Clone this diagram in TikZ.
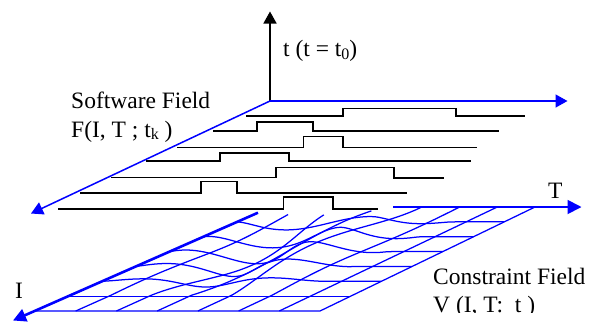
\documentclass[tikz,border=0pt]{standalone}
\usepackage{fontspec}
\setmainfont{Liberation Serif}
\usetikzlibrary{arrows.meta}
\newcommand\mysub[1]{\raisebox{-2.6pt}{\fontsize{16}{16}\selectfont #1}}
\definecolor{fieldblue}{RGB}{0,0,255}
\tikzset{
  lbl/.style={inner sep=0pt, anchor=base west, font=\fontsize{23.5}{28}\selectfont},
  stepline/.style={black, line width=1.3pt},
  upaxis/.style={fieldblue, line width=1.5pt, -{Triangle[length=12pt,width=13pt]}},
  taxis/.style={black, line width=1.5pt, -{Triangle[length=12pt,width=13pt]}},
  meshline/.style={fieldblue, line width=1.25pt},
  lowT/.style={fieldblue, line width=1.8pt, -{Triangle[length=14pt,width=14pt]}},
  lowI/.style={fieldblue, line width=2.6pt, -{Triangle[length=13pt,width=13pt]}},
  declare function={
    wf(\u,\v)=sin(180*min(\u/0.8,1))*sin(180*min(\v/0.85,1));
    wt(\u,\v)=(1-min(\v/0.6,1))*sin(180*min(\u/0.5,1));
    gx(\u,\v)=(1-\v)*(271+264*\u)+\v*(35+285*\u)-14*wf(\u,\v)*cos(450*\u+150*\v)-18*wt(\u,\v);
    gy(\u,\v)=207+104*\v+12*wf(\u,\v)*sin(630*\u-200*\v)+5*wt(\u,\v);
  }
}
\begin{document}
\begin{tikzpicture}[x=1pt,y=-1pt]
\useasboundingbox (0,0) rectangle (596,322);
% axes coordinates
\coordinate (O) at (270,101);
\coordinate (tTop) at (270,11.5);
\coordinate (TEnd) at (567.5,101);
\coordinate (IEnd) at (31,213.5);
\coordinate (LTs) at (393,207);
\coordinate (LTe) at (581.5,207);
\coordinate (LIs) at (258,212.7);
\coordinate (LIe) at (13,320.5);
% upper plane axes
\draw[taxis] (O) -- (tTop);
\draw[upaxis] (O) -- (TEnd);
\draw[upaxis] (O) -- (IEnd);
% software field step lines
\draw[stepline] (246,116) -- (343,116) -- (343,108.3) -- (456,108.3) -- (456,116) -- (525,116);
\draw[stepline] (213,131) -- (257,131) -- (257,122) -- (313,122) -- (313,131) -- (499,131);
\draw[stepline] (177,147.5) -- (303.5,147.5) -- (303.5,136.5) -- (343,136.5) -- (343,147.5) -- (477,147.5);
\draw[stepline] (146,161) -- (220,161) -- (220,153) -- (289,153) -- (289,161) -- (471,161);
\draw[stepline] (111,177.5) -- (276,177.5) -- (276,167.7) -- (394,167.7) -- (394,178) -- (444,178);
\draw[stepline] (80,193) -- (201,193) -- (201,181.5) -- (237,181.5) -- (237,193) -- (407,193);
\draw[stepline] (58,209) -- (283.5,209) -- (283.5,197) -- (333,197) -- (333,209) -- (378,209);
% constraint field mesh
\foreach \k in {1,...,6}{
  \pgfmathsetmacro\vv{\k/7}
  \draw[meshline] plot[smooth, domain=0:1, samples=40, variable=\t] ({gx(\t,\vv)},{gy(\t,\vv)});
}
\foreach \j in {1,...,6}{
  \pgfmathsetmacro\uu{\j/7}
  \pgfmathsetmacro\vs{\j<4 ? 0.03 : 0}
  \draw[meshline] plot[smooth, domain=\vs:1, samples=40, variable=\t] ({gx(\uu,\t)},{gy(\uu,\t)});
}
\coordinate (Mtr) at (535,207);
\coordinate (Mbr) at (320,311);
\coordinate (Mbl) at (35,311);
\draw[meshline] (Mtr) -- (Mbr) -- (Mbl);
\draw[lowT] (LTs) -- (LTe);
\draw[lowI] (LIs) -- (LIe);
% labels
\node[lbl] (tlab) at (283,56.7) {t (t = t\mysub{0})};
\node[lbl] (sw1) at (71,108) {Software Field};
\node[lbl] (sw2) at (71,137) {F(I, T ; t\mysub{k} )};
\node[lbl] (Tlab) at (548,198) {T};
\node[lbl] (Ilab) at (15,298) {I};
\node[lbl] (cf1) at (433,284) {Constraint Field};
\begin{scope}
\clip (420,290) rectangle (596,312.3);
\node[lbl] (cf2) at (433,312) {V (I, T:~ t )};
\end{scope}
\end{tikzpicture}
\end{document}
